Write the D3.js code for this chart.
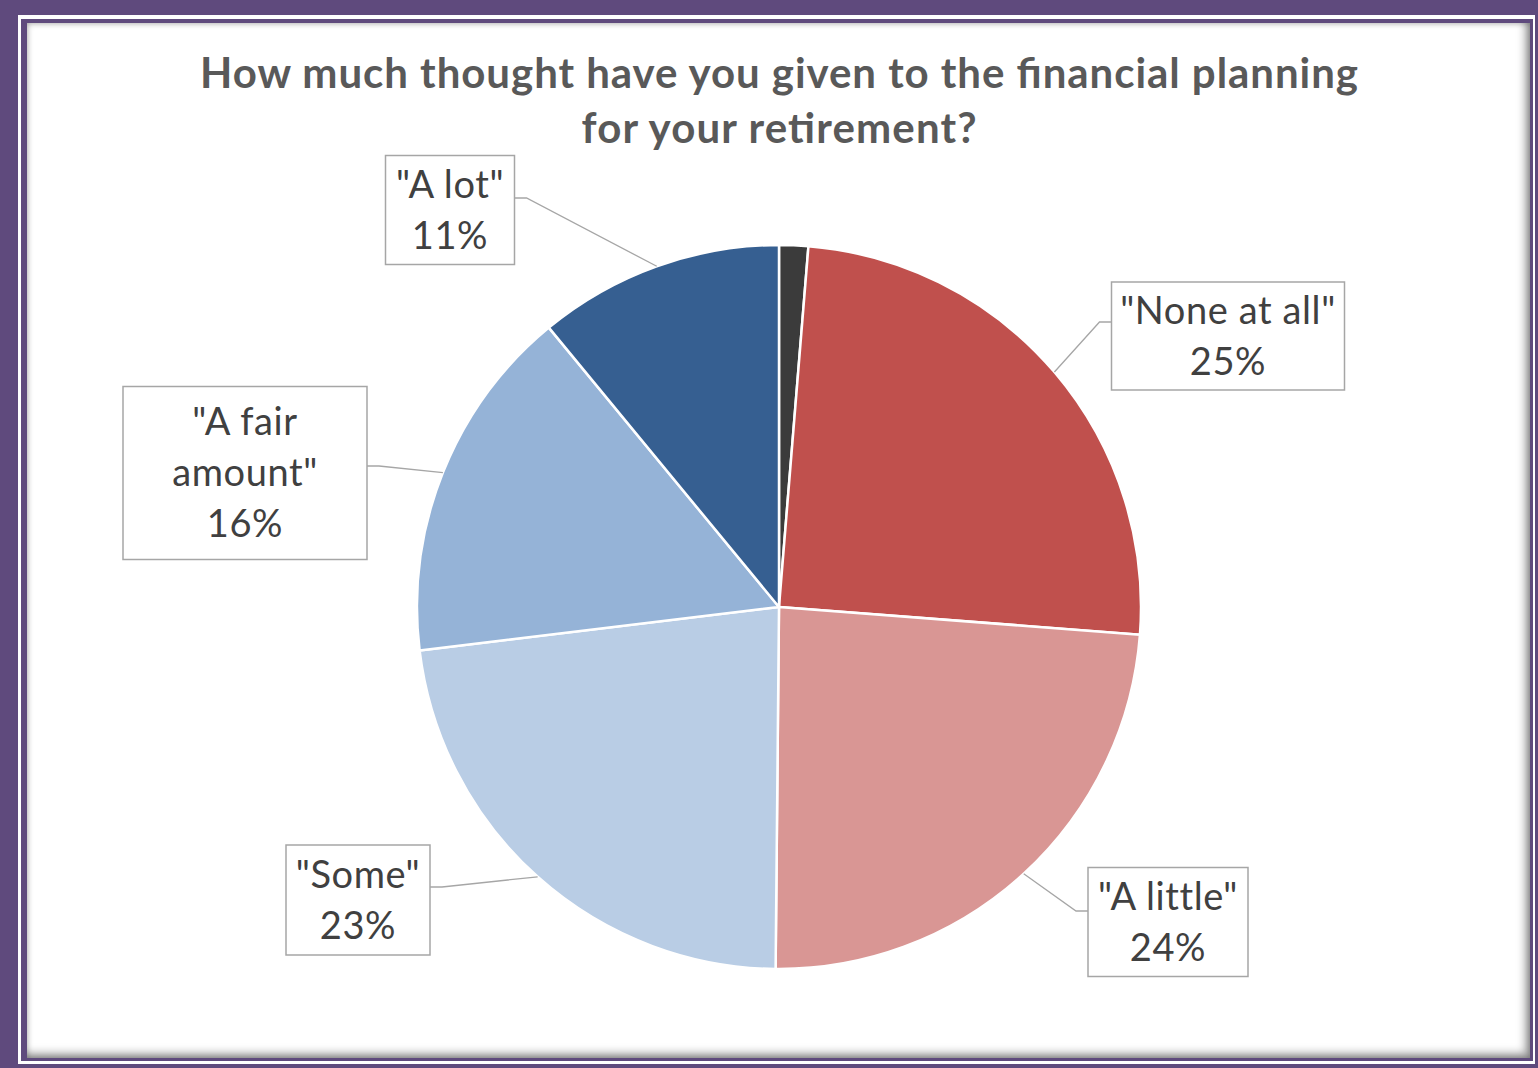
<!DOCTYPE html>
<html>
<head>
<meta charset="utf-8">
<script src="https://cdn.jsdelivr.net/npm/d3@7"></script>
<style>
  html, body { margin: 0; padding: 0; }
  body { width: 1538px; height: 1068px; background: #5f4a7d; position: relative; overflow: hidden; }
  #gap { position: absolute; left: 18px; top: 15px; width: 1517px; height: 1049px; background: #ffffff; }
  #frame { position: absolute; left: 21px; top: 19px; width: 1503px; height: 1035px;
           border-style: solid; border-color: #5f4a7d; border-width: 4px 3px 3px 6px; background: #ffffff; }
  #panel { position: absolute; left: 0; top: 0; right: 0; bottom: 0;
           box-shadow: inset 0 0 6px rgba(0,0,0,0.35), inset -5px -5px 8px rgba(0,0,0,0.35); }
  svg { position: absolute; left: 0; top: 0; }
</style>
</head>
<body>
<div id="gap"></div>
<div id="frame"><div id="panel"></div></div>
<svg id="chart" width="1538" height="1068"></svg>
<script>
// Survey answers, clockwise from 12 o'clock
const categories = ["No answer", "\"None at all\"", "\"A little\"", "\"Some\"", "\"A fair amount\"", "\"A lot\""];
const values = [1.3, 25, 24, 23, 16, 11];
const showLabel = [false, true, true, true, true, true];
const titleLines = ["How much thought have you given to the financial planning", "for your retirement?"];

const colors = ["#3b3b3b", "#c0504d", "#d99694", "#b9cde5", "#95b3d7", "#365f91"];

// Label box layout (box centre, size, text lines, elbow side)
const labelLayout = {
  "\"None at all\"":   { cx: 1228, cy: 336, w: 233, h: 108, lines: ["\"None at all\"", "25%"], side: "left",  ly: 322 },
  "\"A little\"":      { cx: 1168, cy: 922, w: 160, h: 109, lines: ["\"A little\"", "24%"],   side: "left",  ly: 911 },
  "\"Some\"":          { cx: 358,  cy: 900, w: 144, h: 110, lines: ["\"Some\"", "23%"],       side: "right", ly: 887 },
  "\"A fair amount\"": { cx: 245,  cy: 473, w: 244, h: 173, lines: ["\"A fair", "amount\"", "16%"], side: "right", ly: 466 },
  "\"A lot\"":         { cx: 450,  cy: 210, w: 129, h: 109, lines: ["\"A lot\"", "11%"],      side: "right", ly: 198 }
};

const svg = d3.select("#chart");
const cx = 779, cy = 607, R = 362;

// Title
const title = svg.append("text")
  .attr("text-anchor", "middle")
  .attr("font-family", "Lato, 'Open Sans', sans-serif")
  .attr("font-weight", 700)
  .attr("font-size", 42)
  .attr("fill", "#595959");
const titleWidths = [1158, 395];
title.selectAll("tspan").data(titleLines).join("tspan")
  .attr("x", cx).attr("y", (d, i) => 88 + i * 55)
  .attr("textLength", (d, i) => titleWidths[i])
  .attr("lengthAdjust", "spacing")
  .text(d => d);

const data = categories.map((c, i) => ({ category: c, value: values[i], color: colors[i], label: showLabel[i] }));

const pie = d3.pie().value(d => d.value).sort(null).startAngle(0).endAngle(2 * Math.PI);
const arcs = pie(data);
const arc = d3.arc().innerRadius(0).outerRadius(R);

const g = svg.append("g").attr("transform", `translate(${cx},${cy})`);
g.selectAll("path.slice").data(arcs).join("path")
  .attr("class", "slice")
  .attr("d", arc)
  .attr("fill", d => d.data.color)
  .attr("stroke", "#ffffff")
  .attr("stroke-width", 2.5)
  .attr("stroke-linejoin", "round");

// Leader lines and label boxes
const labelled = arcs.filter(d => d.data.label);
labelled.forEach(d => {
  const L = labelLayout[d.data.category];
  const mid = (d.startAngle + d.endAngle) / 2;
  const px = cx + R * Math.sin(mid), py = cy - R * Math.cos(mid);
  const bx = L.side === "left" ? L.cx - L.w / 2 : L.cx + L.w / 2;
  const ex = L.side === "left" ? bx - 12 : bx + 12;
  svg.append("polyline")
    .attr("points", `${bx},${L.ly} ${ex},${L.ly} ${px},${py}`)
    .attr("fill", "none")
    .attr("stroke", "#a6a6a6")
    .attr("stroke-width", 1.3);

  svg.append("rect")
    .attr("x", L.cx - L.w / 2).attr("y", L.cy - L.h / 2)
    .attr("width", L.w).attr("height", L.h)
    .attr("fill", "#ffffff")
    .attr("stroke", "#a6a6a6")
    .attr("stroke-width", 1.5);

  const n = L.lines.length, lh = 51;
  const t = svg.append("text")
    .attr("text-anchor", "middle")
    .attr("font-family", "Lato, 'Open Sans', sans-serif")
    .attr("font-size", 38)
    .attr("letter-spacing", 0.6)
    .attr("fill", "#404040");
  t.selectAll("tspan").data(L.lines).join("tspan")
    .attr("x", L.cx)
    .attr("y", (s, i) => L.cy + (i - (n - 1) / 2) * lh)
    .attr("dy", "0.35em")
    .text(s => s);
});
</script>
</body>
</html>
